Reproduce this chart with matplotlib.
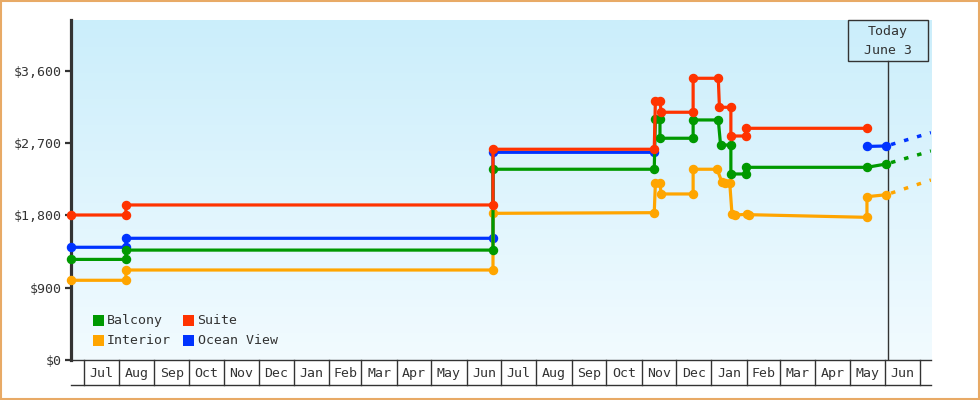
import matplotlib
matplotlib.use("Agg")
import matplotlib.pyplot as plt
import matplotlib.dates as mdates
import matplotlib.transforms as mtransforms
from matplotlib.patches import Rectangle
from matplotlib.ticker import FuncFormatter
import numpy as np
import pandas as pd

# ---------------- data ----------------
balcony_dates = ["2022-06-20", "2022-08-07", "2022-08-07", "2023-06-24", "2023-06-24",
                 "2023-11-12", "2023-11-13", "2023-11-17", "2023-11-17", "2023-12-16",
                 "2023-12-16", "2024-01-07", "2024-01-09", "2024-01-18", "2024-01-18",
                 "2024-01-31", "2024-01-31", "2024-05-16", "2024-06-02"]
balcony_prices = [1253, 1253, 1369, 1369, 2376,
                  2376, 2998, 2998, 2762, 2762,
                  2990, 2990, 2678, 2678, 2317,
                  2317, 2400, 2400, 2442]

suite_dates = ["2022-06-20", "2022-08-07", "2022-08-07", "2023-06-24", "2023-06-24",
               "2023-11-12", "2023-11-13", "2023-11-17", "2023-11-18", "2023-12-16",
               "2023-12-16", "2024-01-07", "2024-01-08", "2024-01-18", "2024-01-18",
               "2024-01-31", "2024-01-31", "2024-05-16"]
suite_prices = [1806, 1806, 1931, 1931, 2625,
                2625, 3230, 3230, 3086, 3086,
                3509, 3509, 3148, 3148, 2790,
                2790, 2886, 2886]

interior_dates = ["2022-06-20", "2022-08-07", "2022-08-07", "2023-06-24", "2023-06-24",
                  "2023-11-12", "2023-11-13", "2023-11-17", "2023-11-18", "2023-12-16",
                  "2023-12-16", "2024-01-06", "2024-01-10", "2024-01-13", "2024-01-17",
                  "2024-01-19", "2024-01-22", "2024-02-01", "2024-02-03", "2024-05-16",
                  "2024-05-16", "2024-06-02"]
interior_prices = [993, 993, 1121, 1121, 1827,
                   1835, 2205, 2205, 2068, 2068,
                   2376, 2376, 2221, 2209, 2209,
                   1815, 1806, 1815, 1810, 1777,
                   2034, 2059]

ocean_dates = ["2022-06-20", "2022-08-07", "2022-08-07", "2023-06-24", "2023-06-24",
               "2023-11-12", "2023-11-13", "2024-05-16", "2024-06-02"]
ocean_prices = [1404, 1404, 1516, 1516, 2587,
                2587, np.nan, 2660, 2666]

# projected prices at the right edge of the chart
projection_end = "2024-07-11"
balcony_proj = 2603
suite_proj = None
interior_proj = 2242
ocean_proj = 2832

series_names = ["Balcony", "Suite", "Interior", "Ocean View"]
series_colors = ["#009900", "#ff3300", "#ffa500", "#0033ff"]

today = "2024-06-03"
today_label = ["Today", "June 3"]

month_starts = pd.date_range("2022-07-01", "2024-07-01", freq="MS")
month_labels = ["Jul", "Aug", "Sep", "Oct", "Nov", "Dec", "Jan", "Feb", "Mar", "Apr", "May", "Jun",
                "Jul", "Aug", "Sep", "Oct", "Nov", "Dec", "Jan", "Feb", "Mar", "Apr", "May", "Jun"]

y_ticks = [0, 900, 1800, 2700, 3600]
x_start, x_end = "2022-06-20", "2024-07-11"
y_max = 4235

# ---------------- figure ----------------
W, H = 980, 400
fig = plt.figure(figsize=(W / 100, H / 100), dpi=100)
fig.patch.set_facecolor("white")

L, R, T, B = 71, 931, 20, 360
rect = [L / W, 1 - B / H, (R - L) / W, (B - T) / H]

bg = fig.add_axes(rect, zorder=0)
top_c = np.array([203, 238, 251]) / 255
bot_c = np.array([242, 251, 255]) / 255
t = np.linspace(0, 1, 256)[:, None]
grad = top_c[None, :] * (1 - t) + bot_c[None, :] * t
bg.imshow(grad[:, None, :], aspect="auto", extent=[0, 1, 0, 1], origin="upper")
bg.set_axis_off()

ax = fig.add_axes(rect, zorder=1)
ax.patch.set_alpha(0)

mono = "DejaVu Sans Mono"
txt_color = "#333333"

def todt(lst):
    return pd.to_datetime(lst)

# drawing order: ocean view lowest, suite on top
plot_order = [(3, ocean_dates, ocean_prices, ocean_proj, 3.0),
              (2, interior_dates, interior_prices, interior_proj, 3.1),
              (0, balcony_dates, balcony_prices, balcony_proj, 3.2),
              (1, suite_dates, suite_prices, suite_proj, 3.3)]

for idx, d, p, proj, z in plot_order:
    c = series_colors[idx]
    ax.plot(todt(d), p, color=c, lw=2.3, marker="o", ms=5.8, mec=c, mfc=c,
            solid_joinstyle="miter", zorder=z, clip_on=False)
    if proj is not None:
        ax.plot(todt([d[-1], projection_end]), [p[-1], proj], color=c, lw=2.5,
                linestyle=(2.5, (1.3, 2.6)), zorder=2, clip_on=True)

ax.set_xlim(pd.Timestamp(x_start), pd.Timestamp(x_end))
ax.set_ylim(0, y_max)

# spines
for s in ["top", "right"]:
    ax.spines[s].set_visible(False)
ax.spines["left"].set_linewidth(2.3)
ax.spines["left"].set_color("#333333")
ax.spines["bottom"].set_linewidth(1.0)
ax.spines["bottom"].set_color("#333333")

ax.set_yticks(y_ticks)
ax.yaxis.set_major_formatter(FuncFormatter(lambda v, pos: "${:,.0f}".format(v)))
ax.tick_params(axis="y", length=4, width=1.6, color="#333333", pad=2.5,
               labelsize=9.5, labelcolor=txt_color)
for lab in ax.get_yticklabels():
    lab.set_family(mono)
ax.set_xticks([])

# month boxes below the axis
trans = mtransforms.blended_transform_factory(ax.transData, ax.transAxes)
box_h = 25 / (B - T)
for ms_ in month_starts:
    ax.plot([ms_, ms_], [0, -box_h], color="#333333", lw=1.0, transform=trans, clip_on=False)
ax.plot([0, 1], [-box_h, -box_h], color="#333333", lw=1.0, transform=ax.transAxes, clip_on=False)
for i, lab in enumerate(month_labels):
    mid = month_starts[i] + (month_starts[i + 1] - month_starts[i]) / 2
    ax.text(mid, -box_h / 2 - 0.002, lab, transform=trans, ha="center", va="center",
            fontsize=9.5, family=mono, color=txt_color)

# today marker
td = pd.Timestamp(today)
tbox_h = 40.7 / (B - T)
half_w = pd.Timedelta(days=35)
ax.plot([td, td], [0, 1 - tbox_h], color="#333333", lw=1.0, transform=trans, zorder=2.5)
ax.add_patch(Rectangle((mdates.date2num(td - half_w), 1 - tbox_h),
                       mdates.date2num(td + half_w) - mdates.date2num(td - half_w), tbox_h,
                       transform=trans, facecolor="none", edgecolor="#333333", lw=1.0,
                       clip_on=False, zorder=5))
ax.text(td, (B - 32) / (B - T), today_label[0], transform=trans, ha="center", va="center",
        fontsize=9.5, family=mono, color=txt_color)
ax.text(td, (B - 50) / (B - T), today_label[1], transform=trans, ha="center", va="center",
        fontsize=9.5, family=mono, color=txt_color)

# legend (manual)
def fx(px):
    return px / W

def fy(py):
    return 1 - py / H

leg_pos = [(93.3, 315), (183.3, 315), (93.3, 335), (183.3, 335)]
leg_txt_x = [106.5, 197.5, 106.5, 197.5]
for i, name in enumerate(series_names):
    x0, y0 = leg_pos[i]
    fig.patches.append(Rectangle((fx(x0), fy(y0 + 11)), 11 / W, 11 / H,
                                 transform=fig.transFigure, facecolor=series_colors[i],
                                 edgecolor="none", zorder=10))
    fig.text(fx(leg_txt_x[i]), fy(y0 + 5.5), name, ha="left", va="center",
             fontsize=9.5, family=mono, color=txt_color, zorder=10)

# outer border
fig.patches.append(Rectangle((0.0008, 0.002), 0.9984, 0.996, transform=fig.transFigure,
                             facecolor="none", edgecolor="#e8aa66", lw=1.5, zorder=20))

fig.savefig("out.png", dpi=100)
